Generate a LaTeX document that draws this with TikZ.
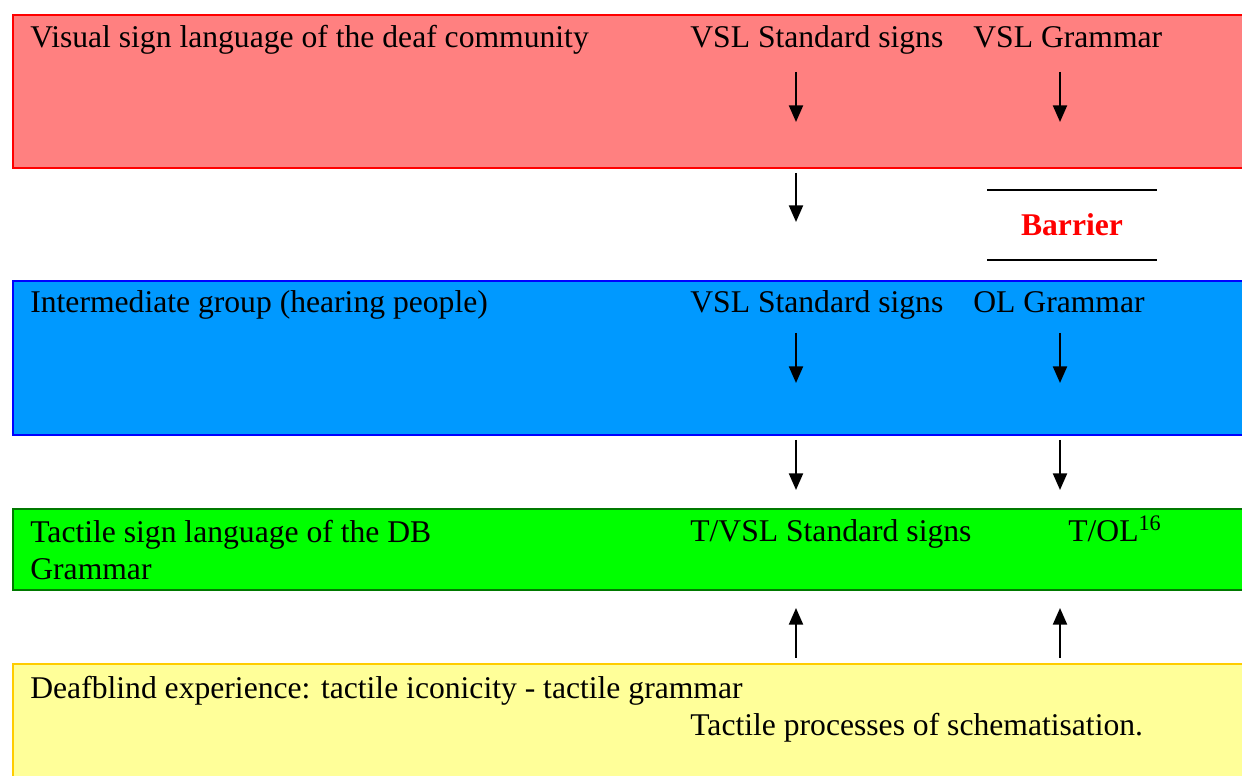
\documentclass[tikz,border=0pt]{standalone}
\usepackage{fontspec}
\setmainfont{Liberation Serif}
\usetikzlibrary{arrows.meta}
\definecolor{vslfill}{HTML}{FF8080}
\definecolor{interfill}{HTML}{0099FF}
\definecolor{interline}{HTML}{0000FF}
\definecolor{tactfill}{HTML}{00FF00}
\definecolor{tactline}{HTML}{007A00}
\definecolor{dbfill}{HTML}{FFFF99}
\definecolor{dbline}{HTML}{FFCC00}

\begin{document}
\begin{tikzpicture}[x=0.02cm, y=-0.02cm, font=\fontsize{18}{21}\selectfont,
    band/.style={draw, line width=1pt, anchor=north west, minimum width=24.9cm, inner sep=0pt},
    label/.style={anchor=base west, inner sep=0pt},
    arr/.style={-{Triangle[length=9.5pt, width=8pt]}, line width=1.2pt}]
        \clip (0,0) rectangle (1242,776);

        % the four groups
        \node[band, fill=vslfill, draw=red, minimum height=3.06cm] (vsl) at (12,14) {};
        \node[band, fill=interfill, draw=interline, minimum height=3.08cm] (inter) at (12,280) {};
        \node[band, fill=tactfill, draw=tactline, minimum height=1.62cm] (tactile) at (12,508) {};
        \node[band, fill=dbfill, draw=dbline, minimum height=2.6cm] (deafblind) at (12,663) {};

        \node[label] (vsltitle) at (30,48) {Visual sign language of the deaf community};
        \node[label] (vslsigns) at (690,48) {VSL Standard signs};
        \node[label] (vslgram) at (973,48) {VSL Grammar};

        \node[label] (intertitle) at (30,313) {Intermediate group (hearing people)};
        \node[label] (intersigns) at (690,313) {VSL Standard signs};
        \node[label] (intergram) at (973,313) {OL Grammar};

        \node[label, anchor=north west, align=left] (tacttitle) at (30,520) {Tactile sign language of the DB\\Grammar};
        \node[label] (tactsigns) at (690,542) {T/VSL Standard signs};
        \node[label] (tactgram) at (1068,542) {T/OL\textsuperscript{16}};

        \node[label] (dbtitle) at (30,699) {Deafblind experience: tactile iconicity - tactile grammar};
        \node[label] (dbproc) at (690,736) {Tactile processes of schematisation.};

        % barrier
        \node[red, font=\fontsize{18}{21}\selectfont\bfseries, minimum width=3.38cm, minimum height=1.4cm, inner sep=0pt] (barrier) at (1072,225) {Barrier};
        \draw[line width=1pt] (barrier.north west) -- (barrier.north east);
        \draw[line width=1pt] (barrier.south west) -- (barrier.south east);

        % arrows
        \foreach \n/\x/\ya/\yb in {a/796/72/122, b/1060/72/122, c/796/173/222,
                d/796/333/383, e/1060/333/383, f/796/440/490, g/1060/440/490,
                h/796/658/608, i/1060/658/608} {
            \coordinate (\n0) at (\x,\ya);
            \coordinate (\n1) at (\x,\yb);
            \draw[arr] (\n0) -- (\n1);
        }
    \end{tikzpicture}
\end{document}
